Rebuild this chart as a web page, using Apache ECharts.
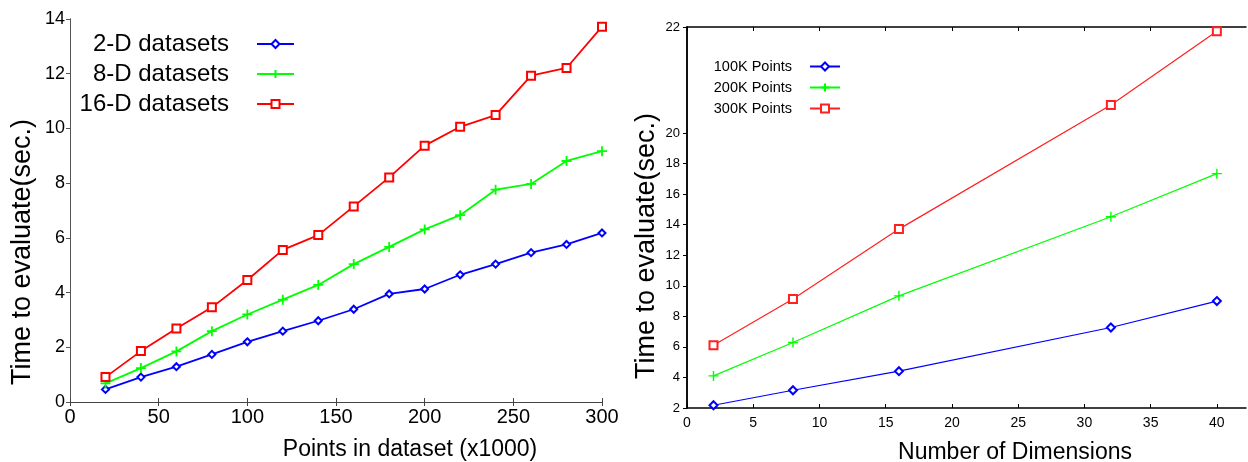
<!DOCTYPE html>
<html>
<head>
<meta charset="utf-8">
<script src="https://cdn.jsdelivr.net/npm/echarts@6/dist/echarts.min.js"></script>
<style>
  html, body { margin: 0; padding: 0; background: #fff; }
  #chart { width: 1248px; height: 462px; }
</style>
</head>
<body>
<div id="chart"></div>
<script>
// left panel: time vs dataset size
const sizeX = [20, 40, 60, 80, 100, 120, 140, 160, 180, 200, 220, 240, 260, 280, 300]
const dim2 = [0.46, 0.91, 1.29, 1.74, 2.20, 2.59, 2.97, 3.39, 3.95, 4.13, 4.65, 5.04, 5.46, 5.76, 6.18]
const dim8 = [0.68, 1.24, 1.85, 2.59, 3.20, 3.74, 4.28, 5.04, 5.67, 6.31, 6.83, 7.76, 7.97, 8.81, 9.17]
const dim16 = [0.91, 1.86, 2.69, 3.46, 4.46, 5.56, 6.10, 7.15, 8.21, 9.37, 10.06, 10.49, 11.93, 12.21, 13.72]
const leftNames = ['2-D datasets', '8-D datasets', '16-D datasets']

// right panel: time vs number of dimensions
const dimX = [2, 8, 16, 32, 40]
const pts100 = [2.18, 3.16, 4.41, 7.27, 9.00]
const pts200 = [4.10, 6.29, 9.34, 14.52, 17.34]
const pts300 = [6.11, 9.13, 13.71, 21.83, 26.66]
const rightNames = ['100K Points', '200K Points', '300K Points']

// tick labels
const leftXTicks = [0, 50, 100, 150, 200, 250, 300]
const leftYTicks = [0, 2, 4, 6, 8, 10, 12, 14]
const rightXTicks = [0, 5, 10, 15, 20, 25, 30, 35, 40]
const rightYTicks = [2, 4, 6, 8, 10, 12, 14, 16, 18, 20]
const rightYTop = 26.94
const rightYTopLabel = '22'

const font = 'Liberation Sans, Arial, sans-serif'
const plusPath = 'path://M0,5L10,5M5,0L5,10'

const chart = echarts.init(document.getElementById('chart'))

function pairs(xs, ys) {
  return xs.map((x, i) => [x, ys[i]])
}

function legendFor(name, right, top, gapPad, size, iw) {
  return {
    data: [name],
    right: right,
    top: top,
    padding: 0,
    align: 'right',
    itemWidth: iw,
    itemHeight: 10,
    selectedMode: false,
    textStyle: { fontFamily: font, fontSize: size, color: '#000', padding: [0, gapPad, 0, 0] }
  }
}

const option = {
  animation: false,
  backgroundColor: '#fff',
  grid: [
    { left: 70, right: 646, top: 19, bottom: 60, outerBoundsMode: 'none' },
    { left: 687, right: 2, top: 27, bottom: 54, outerBoundsMode: 'none' }
  ],
  legend: [
    legendFor(leftNames[0], 953, 32, 23, 24, 37),
    legendFor(leftNames[1], 953, 62, 23, 24, 37),
    legendFor(leftNames[2], 953, 92, 23, 24, 37),
    legendFor(rightNames[0], 407, 59, 13, 14.5, 30),
    legendFor(rightNames[1], 407, 80, 13, 14.5, 30),
    legendFor(rightNames[2], 407, 101, 13, 14.5, 30)
  ],
  xAxis: [
    {
      type: 'value', gridIndex: 0, min: 0, max: 300,
      name: 'Points in dataset (x1000)', nameLocation: 'middle', nameGap: 36,
      nameTextStyle: { fontFamily: font, fontSize: 23, color: '#000', padding: [0, 0, 0, 148] },
      axisLine: { lineStyle: { color: '#444', width: 1 } },
      axisTick: { inside: true, length: 4, customValues: leftXTicks, lineStyle: { color: '#444' } },
      axisLabel: { customValues: leftXTicks, fontFamily: font, fontSize: 20, color: '#000', margin: 5 },
      splitLine: { show: false }
    },
    {
      type: 'value', gridIndex: 0, min: 0, max: 300, position: 'top',
      axisLine: { lineStyle: { color: '#444', width: 1 } },
      axisTick: { inside: true, length: 4, customValues: leftXTicks, lineStyle: { color: '#444' } },
      axisLabel: { show: false },
      splitLine: { show: false }
    },
    {
      type: 'value', gridIndex: 1, min: 0, max: 42.2,
      name: 'Number of Dimensions', nameLocation: 'middle', nameGap: 33,
      nameTextStyle: { fontFamily: font, fontSize: 23, color: '#000', padding: [0, 0, 0, 97] },
      axisLine: { lineStyle: { color: '#000', width: 1.5 } },
      axisTick: { inside: true, length: 4, customValues: rightXTicks, lineStyle: { color: '#000' } },
      axisLabel: { customValues: rightXTicks, fontFamily: font, fontSize: 14, color: '#000', margin: 8 },
      splitLine: { show: false }
    },
    {
      type: 'value', gridIndex: 1, min: 0, max: 42.2, position: 'top',
      axisLine: { lineStyle: { color: '#000', width: 1.5 } },
      axisTick: { inside: true, length: 4, customValues: rightXTicks, lineStyle: { color: '#000' } },
      axisLabel: { show: false },
      splitLine: { show: false }
    }
  ],
  yAxis: [
    {
      type: 'value', gridIndex: 0, min: 0, max: 14,
      name: 'Time to evaluate(sec.)', nameLocation: 'middle', nameGap: 34,
      nameTextStyle: { fontFamily: font, fontSize: 27, color: '#000', padding: [0, 83, 0, 0] },
      axisLine: { lineStyle: { color: '#444', width: 1 } },
      axisTick: { inside: false, length: 4, customValues: leftYTicks, lineStyle: { color: '#444' } },
      axisLabel: { customValues: leftYTicks, fontFamily: font, fontSize: 18, color: '#000', margin: 5 },
      splitLine: { show: false }
    },
    {
      type: 'value', gridIndex: 0, min: 0, max: 14, position: 'right',
      axisLine: { lineStyle: { color: '#555', width: 1 } },
      axisTick: { inside: true, length: 4, customValues: leftYTicks, lineStyle: { color: '#555' } },
      axisLabel: { show: false },
      splitLine: { show: false }
    },
    {
      type: 'value', gridIndex: 1, min: 2, max: rightYTop,
      name: 'Time to evaluate(sec.)', nameLocation: 'middle', nameGap: 27,
      nameTextStyle: { fontFamily: font, fontSize: 27, color: '#000', padding: [0, 57, 0, 0] },
      axisLine: { lineStyle: { color: '#000', width: 1.5 } },
      axisTick: { inside: false, length: 4, customValues: rightYTicks.concat([rightYTop]), lineStyle: { color: '#000' } },
      axisLabel: {
        customValues: rightYTicks.concat([rightYTop]),
        formatter: v => (v === rightYTop ? rightYTopLabel : String(v)),
        fontFamily: font, fontSize: 13, color: '#000', margin: 7
      },
      splitLine: { show: false }
    },
    {
      type: 'value', gridIndex: 1, min: 2, max: rightYTop, position: 'right',
      axisLine: { lineStyle: { color: '#000', width: 1.5 } },
      axisTick: { inside: true, length: 4, customValues: rightYTicks, lineStyle: { color: '#000' } },
      axisLabel: { show: false },
      splitLine: { show: false }
    }
  ],
  series: [
    {
      name: leftNames[0], type: 'line', xAxisIndex: 0, yAxisIndex: 0,
      data: pairs(sizeX, dim2), symbol: 'emptyDiamond', symbolSize: 7,
      lineStyle: { color: '#0000ff', width: 1.8 },
      itemStyle: { color: '#0000ff', borderColor: '#0000ff', borderWidth: 2 }
    },
    {
      name: leftNames[1], type: 'line', xAxisIndex: 0, yAxisIndex: 0,
      data: pairs(sizeX, dim8), symbol: plusPath, symbolSize: 10,
      lineStyle: { color: '#00ff00', width: 1.8 },
      itemStyle: { color: 'rgba(0,0,0,0)', borderColor: '#00ff00', borderWidth: 1.8 }
    },
    {
      name: leftNames[2], type: 'line', xAxisIndex: 0, yAxisIndex: 0,
      data: pairs(sizeX, dim16), symbol: 'emptyRect', symbolSize: 8,
      lineStyle: { color: '#ff0000', width: 1.8 },
      itemStyle: { color: '#ff0000', borderColor: '#ff0000', borderWidth: 1.8 }
    },
    {
      name: rightNames[0], type: 'line', xAxisIndex: 2, yAxisIndex: 2,
      data: pairs(dimX, pts100), symbol: 'emptyDiamond', symbolSize: 8,
      lineStyle: { color: '#0000ff', width: 1.2 },
      itemStyle: { color: '#0000ff', borderColor: '#0000ff', borderWidth: 1.2 }
    },
    {
      name: rightNames[1], type: 'line', xAxisIndex: 2, yAxisIndex: 2,
      data: pairs(dimX, pts200), symbol: plusPath, symbolSize: 10,
      lineStyle: { color: '#00ff00', width: 1.2 },
      itemStyle: { color: 'rgba(0,0,0,0)', borderColor: '#00ff00', borderWidth: 1.4 }
    },
    {
      name: rightNames[2], type: 'line', xAxisIndex: 2, yAxisIndex: 2,
      data: pairs(dimX, pts300), symbol: 'emptyRect', symbolSize: 8,
      lineStyle: { color: '#ff2020', width: 1.2 },
      itemStyle: { color: '#ff2020', borderColor: '#ff2020', borderWidth: 1.2 }
    }
  ]
}

chart.setOption(option)
</script>
</body>
</html>
